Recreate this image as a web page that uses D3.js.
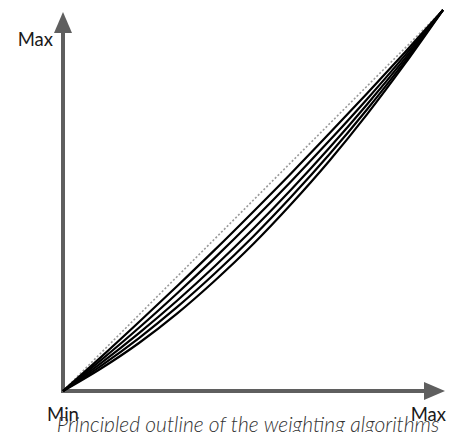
<!DOCTYPE html>
<html>
<head>
<meta charset="utf-8">
<script src="https://cdn.jsdelivr.net/npm/d3@7"></script>
<style>
  body { margin: 0; background: #fff; }
  svg { display: block; }
  text { font-family: Lato, "Open Sans", sans-serif; }
</style>
</head>
<body>
<svg></svg>
<script>
// x positions (share of the range) where each curve was read
const X_STEPS = [0, 0.1, 0.2, 0.3, 0.4, 0.5, 0.6, 0.7, 0.8, 0.9, 1];

// dotted reference line (linear)
const REFERENCE = [0, 0.1, 0.2, 0.3, 0.4, 0.5, 0.6, 0.7, 0.8, 0.9, 1];

// weighting curves, top to bottom
const CURVE_1 = [0, 0.089, 0.181, 0.275, 0.371, 0.470, 0.571, 0.675, 0.781, 0.889, 1];
const CURVE_2 = [0, 0.081, 0.166, 0.256, 0.350, 0.448, 0.550, 0.656, 0.766, 0.881, 1];
const CURVE_3 = [0, 0.073, 0.152, 0.237, 0.328, 0.425, 0.528, 0.637, 0.752, 0.873, 1];
const CURVE_4 = [0, 0.066, 0.139, 0.220, 0.309, 0.405, 0.509, 0.620, 0.739, 0.866, 1];
const CURVE_5 = [0, 0.059, 0.126, 0.203, 0.290, 0.385, 0.490, 0.603, 0.726, 0.859, 1];

const AXIS_LABELS = ['Min', 'Max'];
const CAPTION = 'Principled outline of the weighting algorithms';

const WIDTH = 451, HEIGHT = 432;
const ORIGIN = { x: 63, y: 391 };
const AXIS_COLOR = '#5f5f5f';

const svg = d3.select('svg')
    .attr('width', WIDTH)
    .attr('height', HEIGHT);

const x = d3.scaleLinear().domain([0, 1]).range([ORIGIN.x, 443]);
const y = d3.scaleLinear().domain([0, 1]).range([ORIGIN.y, 10]);

const line = d3.line()
    .x((d, i) => x(X_STEPS[i]))
    .y(d => y(d))
    .curve(d3.curveMonotoneX);

// AXES AS ARROWS
const axes = svg.append('g');

axes.append('line')
    .attr('x1', ORIGIN.x).attr('y1', ORIGIN.y + 2)
    .attr('x2', ORIGIN.x).attr('y2', 30)
    .attr('stroke', AXIS_COLOR)
    .attr('stroke-width', 4);

axes.append('line')
    .attr('x1', ORIGIN.x - 2).attr('y1', ORIGIN.y)
    .attr('x2', 426).attr('y2', ORIGIN.y)
    .attr('stroke', AXIS_COLOR)
    .attr('stroke-width', 4);

// arrow heads
axes.append('path')
    .attr('d', `M${ORIGIN.x},12 L${ORIGIN.x + 9},33 L${ORIGIN.x - 9},33 Z`)
    .attr('fill', AXIS_COLOR);

axes.append('path')
    .attr('d', `M445,${ORIGIN.y} L424,${ORIGIN.y - 9} L424,${ORIGIN.y + 9} Z`)
    .attr('fill', AXIS_COLOR);

// CURVES
svg.append('path')
    .datum(REFERENCE)
    .attr('d', line)
    .attr('fill', 'none')
    .attr('stroke', '#999')
    .attr('stroke-width', 1.6)
    .attr('stroke-dasharray', '2,2');

svg.selectAll('.curve')
    .data([CURVE_1, CURVE_2, CURVE_3, CURVE_4, CURVE_5])
    .enter()
    .append('path')
    .classed('curve', true)
    .attr('d', line)
    .attr('fill', 'none')
    .attr('stroke', '#000')
    .attr('stroke-width', 2.2);

// LABELS
svg.append('text')
    .text(AXIS_LABELS[1])
    .attr('x', ORIGIN.x - 10)
    .attr('y', 46)
    .attr('text-anchor', 'end')
    .attr('font-size', 18.5)
    .attr('fill', '#1a1a1a');

svg.append('text')
    .text(AXIS_LABELS[0])
    .attr('x', ORIGIN.x)
    .attr('y', 421)
    .attr('text-anchor', 'middle')
    .attr('font-size', 18.5)
    .attr('fill', '#1a1a1a');

svg.append('text')
    .text(AXIS_LABELS[1])
    .attr('x', 446)
    .attr('y', 421)
    .attr('text-anchor', 'end')
    .attr('font-size', 18.5)
    .attr('fill', '#1a1a1a');

svg.append('text')
    .text(CAPTION)
    .attr('x', 248)
    .attr('y', 432)
    .attr('text-anchor', 'middle')
    .attr('font-size', 21)
    .attr('font-style', 'italic')
    .attr('font-weight', 300)
    .attr('fill', '#333');
</script>
</body>
</html>
